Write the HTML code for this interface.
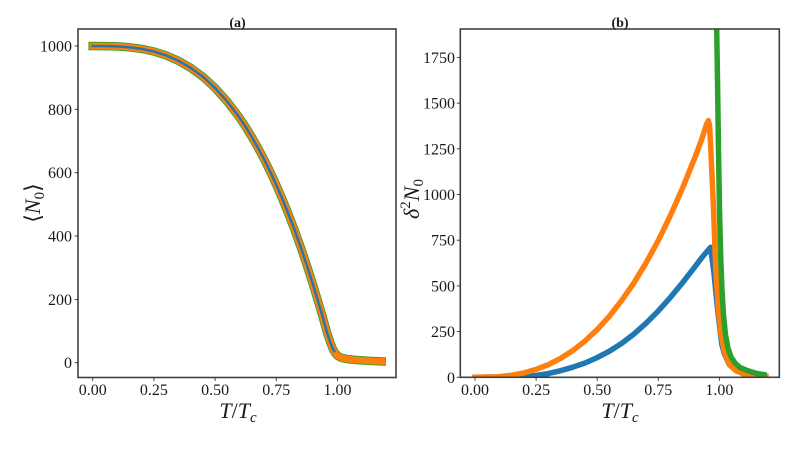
<!DOCTYPE html>
<html>
<head>
<meta charset="utf-8">
<style>
  html, body { margin: 0; padding: 0; background: #ffffff; }
  svg { display: block; }
  text { font-family: "Liberation Serif", "DejaVu Serif", serif; fill: #1a1a1a; }
  .tick { font-size: 16px; }
  .ttl { font-size: 14px; font-weight: bold; }
  .lab { font-size: 22px; }
</style>
</head>
<body>
<svg width="800" height="455" viewBox="0 0 800 455" xmlns="http://www.w3.org/2000/svg">
  <defs>
    <clipPath id="clipL"><rect x="78" y="29" width="318" height="348.5"/></clipPath>
    <clipPath id="clipR"><rect x="460.3" y="29" width="319" height="348.3"/></clipPath>
  </defs>
  <rect x="0" y="0" width="800" height="455" fill="#ffffff"/>

  <!-- ===== Left panel (a) ===== -->
  <g clip-path="url(#clipL)" fill="none" stroke-linejoin="round" stroke-linecap="square">
    <path stroke="#2ca02c" stroke-width="8.5" d="M92.7,46.0 L104.9,46.1 L117.2,46.4 L129.4,47.3 L141.7,48.9 L153.9,51.5 L166.1,55.4 L178.4,60.8 L190.6,67.8 L202.9,76.8 L215.1,88.0 L227.3,101.6 L239.6,117.8 L245.7,127.0 L251.8,137.0 L257.9,147.7 L264.1,159.3 L270.2,171.7 L276.3,185.0 L282.4,199.1 L288.5,214.2 L294.7,230.3 L300.8,247.4 L306.9,265.5 L313.0,284.6 L319.1,304.8 L322.0,314.5 L325.3,326.3 L327.7,334.8 L330.2,342.1 L332.6,348.4 L335.1,352.9 L337.5,355.7 L340.0,357.2 L342.4,358.1 L347.3,359.1 L354.6,359.9 L362.0,360.4 L371.8,361.0 L381.6,361.4"/>
    <path stroke="#ff7f0e" stroke-width="6.8" d="M92.7,46.0 L104.9,46.1 L117.2,46.4 L129.4,47.3 L141.7,48.9 L153.9,51.5 L166.1,55.4 L178.4,60.8 L190.6,67.8 L202.9,76.8 L215.1,88.0 L227.3,101.6 L239.6,117.8 L245.7,127.0 L251.8,137.0 L257.9,147.7 L264.1,159.3 L270.2,171.7 L276.3,185.0 L282.4,199.1 L288.5,214.2 L294.7,230.3 L300.8,247.4 L306.9,265.5 L313.0,284.6 L319.1,304.8 L322.0,314.5 L325.3,326.3 L327.7,334.8 L330.2,342.1 L332.6,348.4 L335.1,352.9 L337.5,355.7 L340.0,357.2 L342.4,358.1 L347.3,359.1 L354.6,359.9 L362.0,360.4 L371.8,361.0 L381.6,361.4"/>
    <path stroke="#1f77b4" stroke-width="2.5" d="M92.7,46.0 L104.9,46.1 L117.2,46.4 L129.4,47.3 L141.7,48.9 L153.9,51.5 L166.1,55.4 L178.4,60.8 L190.6,67.8 L202.9,76.8 L215.1,88.0 L227.3,101.6 L239.6,117.8 L245.7,127.0 L251.8,137.0 L257.9,147.7 L264.1,159.3 L270.2,171.7 L276.3,185.0 L282.4,199.1 L288.5,214.2 L294.7,230.3 L300.8,247.4 L306.9,265.5 L313.0,284.6 L319.1,304.8 L322.0,314.5 L325.3,326.3 L327.7,334.8 L330.2,342.1 L332.6,348.4 L334.2,351.2"/>
  </g>
  <rect x="78" y="29" width="318" height="348.5" fill="none" stroke="#404040" stroke-width="1.6"/>
  <!-- left ticks -->
  <g stroke="#333" stroke-width="0.9">
    <line x1="74.5" y1="46.0" x2="78" y2="46.0"/>
    <line x1="74.5" y1="109.3" x2="78" y2="109.3"/>
    <line x1="74.5" y1="172.7" x2="78" y2="172.7"/>
    <line x1="74.5" y1="236.0" x2="78" y2="236.0"/>
    <line x1="74.5" y1="299.4" x2="78" y2="299.4"/>
    <line x1="74.5" y1="362.7" x2="78" y2="362.7"/>
    <line x1="92.7" y1="377.5" x2="92.7" y2="381"/>
    <line x1="153.9" y1="377.5" x2="153.9" y2="381"/>
    <line x1="215.1" y1="377.5" x2="215.1" y2="381"/>
    <line x1="276.3" y1="377.5" x2="276.3" y2="381"/>
    <line x1="337.5" y1="377.5" x2="337.5" y2="381"/>
  </g>
  <g class="tick" text-anchor="end">
    <text x="72" y="51.5">1000</text>
    <text x="72" y="114.8">800</text>
    <text x="72" y="178.2">600</text>
    <text x="72" y="241.5">400</text>
    <text x="72" y="304.9">200</text>
    <text x="72" y="368.2">0</text>
  </g>
  <g class="tick" text-anchor="middle">
    <text x="92.7" y="395">0.00</text>
    <text x="153.9" y="395">0.25</text>
    <text x="215.1" y="395">0.50</text>
    <text x="276.3" y="395">0.75</text>
    <text x="337.5" y="395">1.00</text>
  </g>
  <text class="ttl" x="237.5" y="27" text-anchor="middle">(a)</text>
  <text class="lab" x="238" y="418" text-anchor="middle"><tspan font-style="italic">T</tspan>/<tspan font-style="italic">T</tspan><tspan font-style="italic" font-size="15" dy="4">c</tspan></text>
  <text class="lab" transform="translate(40,203) rotate(-90)" text-anchor="middle">⟨<tspan font-style="italic">N</tspan><tspan font-size="15" dy="4">0</tspan><tspan dy="-4">⟩</tspan></text>

  <!-- ===== Right panel (b) ===== -->
  <g clip-path="url(#clipR)" fill="none" stroke-linejoin="round" stroke-linecap="square" stroke-width="5.5">
    <path stroke="#1f77b4" d="M475,377.3 L511.7,377.1 L523.9,376.6 L536.1,375.5 L548.3,373.6 L560.5,370.7 L572.8,367.2 L585.0,363.0 L597.2,357.6 L609.4,351.2 L621.6,343.4 L633.9,334.1 L646.1,323.2 L658.3,310.9 L670.5,297.3 L682.7,282.5 L695.0,266.7 L702.3,257.0 L710.6,247.3 L714,273.3 L717.3,306.7 L720,330 L721.8,344.4 L724.3,353.5 L729.2,364.5 L736.5,370.9 L743.8,374.0 L756.1,375.8 L765.8,376.4"/>
    <path stroke="#ff7f0e" d="M475,377.3 L499.4,376.6 L511.7,375.2 L523.9,372.9 L536.1,369.4 L548.3,364.7 L560.5,358.4 L572.8,350.6 L585.0,341.0 L597.2,329.6 L609.4,316.2 L621.6,300.6 L633.9,282.9 L646.1,262.8 L658.3,240.4 L670.5,215.3 L682.7,187.7 L695.0,157.3 L702.3,137.7 L706.5,124.5 L708.4,120.6 L709.6,126 L710.8,148.8 L713.3,203.6 L715.7,267.6 L718.2,307.8 L720.6,331.6 L724.3,351.7 L729.2,364.5 L736.5,370.9 L743.8,374.0 L756.1,375.8 L765.8,376.4"/>
    <path stroke="#2ca02c" d="M716.2,10 L716.7,29 L717.5,80 L718.5,150 L719.5,210 L720.8,260 L722,290 L723.5,315 L725.5,335 L728,348 L731,357 L735,363 L740,367.5 L748,370.8 L756,373.3 L764,374.6"/>
  </g>
  <rect x="460.3" y="29" width="319" height="348.3" fill="none" stroke="#404040" stroke-width="1.6"/>
  <g stroke="#333" stroke-width="0.9">
    <line x1="456.8" y1="377.3" x2="460.3" y2="377.3"/>
    <line x1="456.8" y1="331.6" x2="460.3" y2="331.6"/>
    <line x1="456.8" y1="285.9" x2="460.3" y2="285.9"/>
    <line x1="456.8" y1="240.2" x2="460.3" y2="240.2"/>
    <line x1="456.8" y1="194.5" x2="460.3" y2="194.5"/>
    <line x1="456.8" y1="148.8" x2="460.3" y2="148.8"/>
    <line x1="456.8" y1="103.1" x2="460.3" y2="103.1"/>
    <line x1="456.8" y1="57.4" x2="460.3" y2="57.4"/>
    <line x1="475" y1="377.3" x2="475" y2="380.8"/>
    <line x1="536.1" y1="377.3" x2="536.1" y2="380.8"/>
    <line x1="597.2" y1="377.3" x2="597.2" y2="380.8"/>
    <line x1="658.3" y1="377.3" x2="658.3" y2="380.8"/>
    <line x1="719.4" y1="377.3" x2="719.4" y2="380.8"/>
  </g>
  <g class="tick" text-anchor="end">
    <text x="455" y="382.8">0</text>
    <text x="455" y="337.1">250</text>
    <text x="455" y="291.4">500</text>
    <text x="455" y="245.7">750</text>
    <text x="455" y="200.0">1000</text>
    <text x="455" y="154.3">1250</text>
    <text x="455" y="108.6">1500</text>
    <text x="455" y="62.9">1750</text>
  </g>
  <g class="tick" text-anchor="middle">
    <text x="475" y="395">0.00</text>
    <text x="536.1" y="395">0.25</text>
    <text x="597.2" y="395">0.50</text>
    <text x="658.3" y="395">0.75</text>
    <text x="719.4" y="395">1.00</text>
  </g>
  <text class="ttl" x="620" y="27" text-anchor="middle">(b)</text>
  <text class="lab" x="620" y="418" text-anchor="middle"><tspan font-style="italic">T</tspan>/<tspan font-style="italic">T</tspan><tspan font-style="italic" font-size="15" dy="4">c</tspan></text>
  <text class="lab" transform="translate(419,199) rotate(-90)" text-anchor="middle" font-size="23"><tspan font-style="italic">δ</tspan><tspan font-size="15" dy="-9">2</tspan><tspan font-style="italic" dy="9">N</tspan><tspan font-size="15" dy="4">0</tspan></text>
</svg>
</body>
</html>
